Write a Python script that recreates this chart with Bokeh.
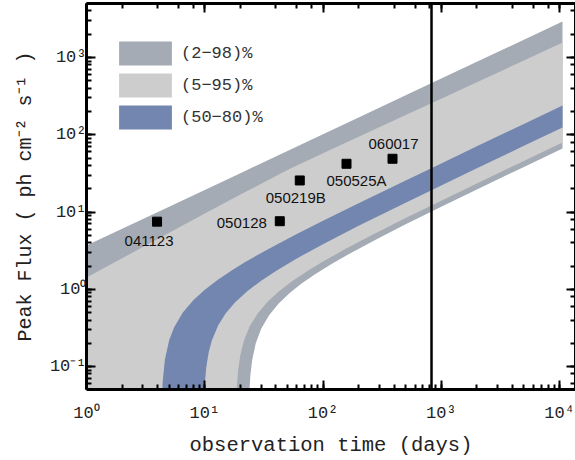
from bokeh.plotting import figure
from bokeh.models import LogAxis, Span, CustomJSTickFormatter, Legend, LegendItem, Range1d, ColumnDataSource
from bokeh.core.properties import value
from bokeh.embed import file_html
from bokeh.resources import INLINE

# ---------------- data ----------------
# upper band edges (straight power laws)
t_upper = [1, 2, 5, 10, 20, 50, 100, 200, 500, 1000, 2000, 5000, 10600]
flux_98 = [3.68, 6.06, 11.73, 19.33, 31.86, 61.6, 101.6, 167.4, 323.9, 533.8, 879.6, 1702, 2924]
flux_95 = [1.42, 2.52, 5.37, 9.53, 16.8, 35.1, 57.8, 94.2, 179.9, 293, 478.6, 916, 1563]

# lower band edges (turn over towards zero at early times)
t_80 = [4.27, 4.3, 4.4, 4.6, 5, 5.5, 6.5, 8, 10, 13, 17, 22, 30, 40, 60, 100, 200, 500, 1000, 2000, 5000, 10600]
flux_80 = [1e-4, 0.0213, 0.0622, 0.1227, 0.2191, 0.3206, 0.4951, 0.7209, 0.9862, 1.341, 1.766, 2.249, 2.950,
           3.752, 5.191, 7.703, 12.99, 25.59, 42.57, 70.74, 138.2, 239.2]

t_50 = [9.71, 9.75, 9.85, 10, 10.3, 10.8, 11.5, 13, 15, 18, 23, 30, 40, 60, 100, 200, 500, 1000, 2000, 5000, 10600]
flux_50 = [1e-4, 0.0137, 0.0342, 0.0581, 0.0976, 0.1527, 0.2194, 0.3421, 0.4841, 0.6718, 0.948, 1.291, 1.729,
           2.504, 3.839, 6.616, 13.20, 22.05, 36.71, 71.81, 124.4]

t_5 = [18.2, 18.25, 18.4, 18.7, 19.2, 20, 21.5, 24, 28, 34, 42, 55, 75, 100, 150, 250, 500, 1000, 2000, 5000, 10600]
flux_5 = [1e-4, 0.0103, 0.0283, 0.0553, 0.0917, 0.1409, 0.2193, 0.331, 0.4853, 0.6879, 0.9275, 1.275, 1.75,
          2.284, 3.235, 4.885, 8.335, 14.02, 23.4, 45.86, 79.51]

t_2 = [23.3, 23.35, 23.5, 23.8, 24.3, 25.2, 27, 30, 35, 42, 52, 65, 85, 120, 180, 300, 500, 1000, 2000, 5000, 10600]
flux_2 = [1e-4, 0.0086, 0.0237, 0.0463, 0.0767, 0.1225, 0.1994, 0.3075, 0.462, 0.6505, 0.8894, 1.168, 1.555,
          2.159, 3.07, 4.651, 6.917, 11.68, 19.54, 38.33, 66.46]

floor_flux = 1e-4

# observed events
grb_names = ["041123", "050128", "050219B", "050525A", "060017"]
grb_time = [3.95, 43.1, 63.6, 158, 387]
grb_flux = [7.5, 7.6, 25.6, 42.1, 48.9]

vline_time = 827

band_labels = ["(2\u221298)%", "(5\u221295)%", "(50\u221280)%"]

# ---------------- styling / placement ----------------
label_dx = [-8, -38, -4, 10, 1]
label_dy = [19, 2, 17, 17, -15]

C_DARK = "#a4abb4"
C_LIGHT = "#cdcdcd"
C_BLUE = "#7286af"
MONO = "Liberation Mono"

p = figure(x_axis_type="log", y_axis_type="log",
           x_range=Range1d(1, 13650), y_range=Range1d(0.0504, 5000),
           frame_width=489, frame_height=386,
           min_border_left=86, min_border_right=0, min_border_top=3, min_border_bottom=0,
           output_backend="svg", toolbar_location=None, background_fill_color="white")
p.grid.visible = False
p.outline_line_color = None

# bands
dark = p.patch(t_upper + t_2[::-1] + [t_upper[0]],
               flux_98 + flux_2[::-1] + [floor_flux],
               fill_color=C_DARK, line_color=None)
light = p.patch(t_upper + t_5[::-1] + [t_upper[0]],
                flux_95 + flux_5[::-1] + [floor_flux],
                fill_color=C_LIGHT, line_color=None)
blue = p.patch(t_80 + t_50[::-1],
               flux_80 + flux_50[::-1],
               fill_color=C_BLUE, line_color=None)

# vertical line
p.add_layout(Span(location=vline_time, dimension="height", line_color="black", line_width=2.5))

# points and labels
src = ColumnDataSource(dict(t=grb_time, f=grb_flux, name=grb_names, dx=label_dx, dy=label_dy))
p.scatter("t", "f", source=src, marker="square", size=9, fill_color="black", line_color="black")
p.text("t", "f", text="name", x_offset="dx", y_offset="dy", source=src,
       text_align="center", text_baseline="middle",
       text_font=value("Liberation Sans"), text_font_size="15px", text_color="#111111")

# legend
legend = Legend(items=[LegendItem(label=band_labels[0], renderers=[dark]),
                       LegendItem(label=band_labels[1], renderers=[light]),
                       LegendItem(label=band_labels[2], renderers=[blue])],
                location=(26, 257), orientation="vertical", padding=0, margin=0, spacing=2,
                glyph_width=66, glyph_height=30, label_standoff=3,
                label_text_font=MONO, label_text_font_size="17px", label_text_color="#333333",
                border_line_color=None, background_fill_alpha=0)
p.add_layout(legend)

sup_fmt = CustomJSTickFormatter(code="""
const s = {'-':'\u207b','0':'\u2070','1':'\u00b9','2':'\u00b2','3':'\u00b3','4':'\u2074',
           '5':'\u2075','6':'\u2076','7':'\u2077','8':'\u2078','9':'\u2079'};
const e = Math.round(Math.log10(tick));
return '10' + String(e).split('').map(c => s[c]).join('');
""")
blank_fmt = CustomJSTickFormatter(code="return '';")


def style_axis(ax):
    ax.axis_line_width = 3
    ax.axis_line_color = "black"
    ax.major_tick_in = 9
    ax.major_tick_out = 0
    ax.minor_tick_in = 5
    ax.minor_tick_out = 0
    ax.major_tick_line_width = 2
    ax.minor_tick_line_width = 2
    ax.major_tick_line_color = "black"
    ax.minor_tick_line_color = "black"


for ax in (p.xaxis[0], p.yaxis[0]):
    style_axis(ax)
    ax.formatter = sup_fmt
    ax.major_label_text_font = MONO
    ax.major_label_text_font_size = "17px"
    ax.major_label_text_color = "#222222"
    ax.axis_label_text_font = MONO
    ax.axis_label_text_font_style = "normal"
    ax.axis_label_text_color = "#222222"

p.xaxis[0].axis_label = "observation time (days)"
p.xaxis[0].axis_label_text_font_size = "20.5px"
p.xaxis[0].major_label_standoff = 14
p.xaxis[0].axis_label_standoff = 8
p.yaxis[0].axis_label = "Peak Flux ( ph cm\u207b\u00b2 s\u207b\u00b9 )"
p.yaxis[0].axis_label_text_font_size = "20px"
p.yaxis[0].major_label_standoff = 0
p.yaxis[0].axis_label_standoff = 10

top_ax = LogAxis(formatter=blank_fmt, major_label_standoff=0)
right_ax = LogAxis(formatter=blank_fmt, major_label_standoff=0)
style_axis(top_ax)
style_axis(right_ax)
p.add_layout(top_ax, "above")
p.add_layout(right_ax, "right")

open("out.html", "w").write(file_html(p, INLINE))
